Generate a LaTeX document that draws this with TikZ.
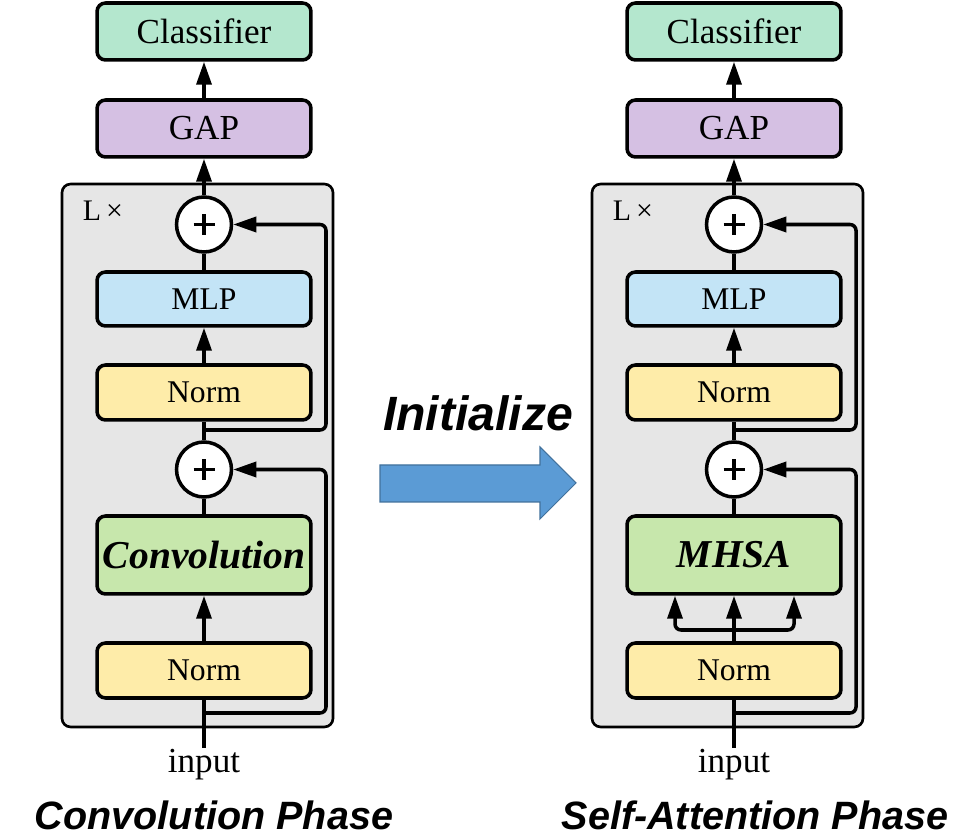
\documentclass[tikz,border=0pt]{standalone}
\usepackage{fontspec}
\setmainfont{Liberation Serif}
\newfontfamily\arialf{Liberation Sans}
\usetikzlibrary{arrows.meta}
\definecolor{clsC}{HTML}{B4E7CE}
\definecolor{gapC}{HTML}{D5C0E3}
\definecolor{mlpC}{HTML}{C3E4F6}
\definecolor{normC}{HTML}{FEECA9}
\definecolor{convC}{HTML}{C7E7AC}
\definecolor{grayC}{HTML}{E6E6E6}
\definecolor{arrC}{HTML}{5B9BD5}
\definecolor{arrB}{HTML}{41719C}
\tikzset{
  blk/.style={draw=black, line width=2pt, rounded corners=0.17cm, minimum width=4.28cm, inner sep=0pt},
  plusnode/.style={draw=black, fill=white, circle, line width=2pt, minimum size=1.1cm, inner sep=0pt},
  ln/.style={line width=2pt},
  arr/.style={line width=2pt, -{Triangle[length=0.46cm,width=0.3cm]}},
  boxfont/.style={font=\fontsize{18}{21}\selectfont},
  bigfont/.style={font=\fontsize{20}{24}\selectfont},
  emfont/.style={font=\fontsize{22.5}{26}\selectfont\bfseries\itshape},
}
\newcommand\drawplus[1]{\draw[line width=2pt] ([xshift=-0.21cm]#1.center) -- ([xshift=0.21cm]#1.center) ([yshift=-0.21cm]#1.center) -- ([yshift=0.21cm]#1.center);}
\begin{document}
\begin{tikzpicture}[x=0.02cm,y=-0.02cm]
\useasboundingbox[fill=white] (0,0) rectangle (957,837);
% ---------- two columns ----------
\foreach \pre/\sh/\mid in {L/0/conv, R/530/mhsa}{
\begin{scope}[xshift=\sh*0.02cm, name prefix=\pre-]
  \node[draw=black, fill=grayC, line width=1.5pt, rounded corners=0.17cm, minimum width=5.42cm, minimum height=10.86cm, inner sep=0pt] (box) at (197.5,455.5) {};
  \node[font=\fontsize{17}{20}\selectfont] (lx) at (103,211) {L\,×};
  \node[blk, fill=clsC, minimum height=1.14cm, bigfont] (cls) at (204,31.5) {Classifier};
  \node[blk, fill=gapC, minimum height=1.14cm, bigfont] (gap) at (204,128.5) {GAP};
  \node[plusnode] (p1) at (204,224.5) {};
  \node[blk, fill=mlpC, minimum height=1.08cm, boxfont] (mlp) at (204,299) {MLP};
  \node[blk, fill=normC, minimum height=1.1cm, boxfont] (n1) at (204,392.5) {Norm};
  \node[plusnode] (p2) at (204,469.5) {};
  \node[blk, fill=convC, minimum height=1.56cm, emfont] (\mid) at (204,555) {};
  \node[blk, fill=normC, minimum height=1.1cm, boxfont] (n2) at (204,670.5) {Norm};
  \node[bigfont, inner sep=1pt] (in) at (204,765) {input};
  \coordinate (b1) at (204,430);
  \coordinate (c1) at (326,430);
  \coordinate (d1) at (326,224.5);
  \coordinate (b2) at (204,713);
  \coordinate (c2) at (326,713);
  \coordinate (d2) at (326,469.5);
  \drawplus{p1}
  \drawplus{p2}
  \draw[ln] (in.north) -- (n2.south);
  \draw[ln] (\mid.north) -- (p2.south);
  \draw[ln] (p2.north) -- (n1.south);
  \draw[arr] (n1.north) -- (mlp.south);
  \draw[ln] (mlp.north) -- (p1.south);
  \draw[arr] (p1.north) -- (gap.south);
  \draw[arr] (gap.north) -- (cls.south);
  \draw[arr, rounded corners=0.12cm] (b1) -- (c1) -- (d1) -- (p1.east);
  \draw[arr, rounded corners=0.12cm] (b2) -- (c2) -- (d2) -- (p2.east);
\end{scope}
}
% box labels
\node[emfont] at (L-conv) {Convolution};
\node[emfont] at (R-mhsa) {MHSA};
% left: single arrow
\draw[arr] (L-n2.north) -- (L-conv.south);
% right: three arrows
\coordinate (R-br) at (734,630);
\coordinate (R-bl) at (675,630);
\coordinate (R-brr) at (794,630);
\draw[arr] (R-n2.north) -- (R-mhsa.south);
\draw[arr, rounded corners=0.12cm] (R-br) -- (R-bl) -- (R-bl |- R-mhsa.south);
\draw[arr, rounded corners=0.12cm] (R-br) -- (R-brr) -- (R-brr |- R-mhsa.south);
% middle
\node[font=\arialf\fontsize{27.4}{32}\selectfont\bfseries\itshape] (init) at (478,413) {Initialize};
\draw[fill=arrC, draw=arrB, line width=0.6pt] (380,465) -- (540,465) -- (540,447) -- (576,483) -- (540,519) -- (540,502) -- (380,502) -- cycle;
% titles
\node[font=\arialf\fontsize{22.5}{26}\selectfont\bfseries\itshape] (t1) at (214,815) {Convolution Phase};
\node[font=\arialf\fontsize{22.5}{26}\selectfont\bfseries\itshape] (t2) at (755,815) {Self-Attention Phase};
\end{tikzpicture}
\end{document}
